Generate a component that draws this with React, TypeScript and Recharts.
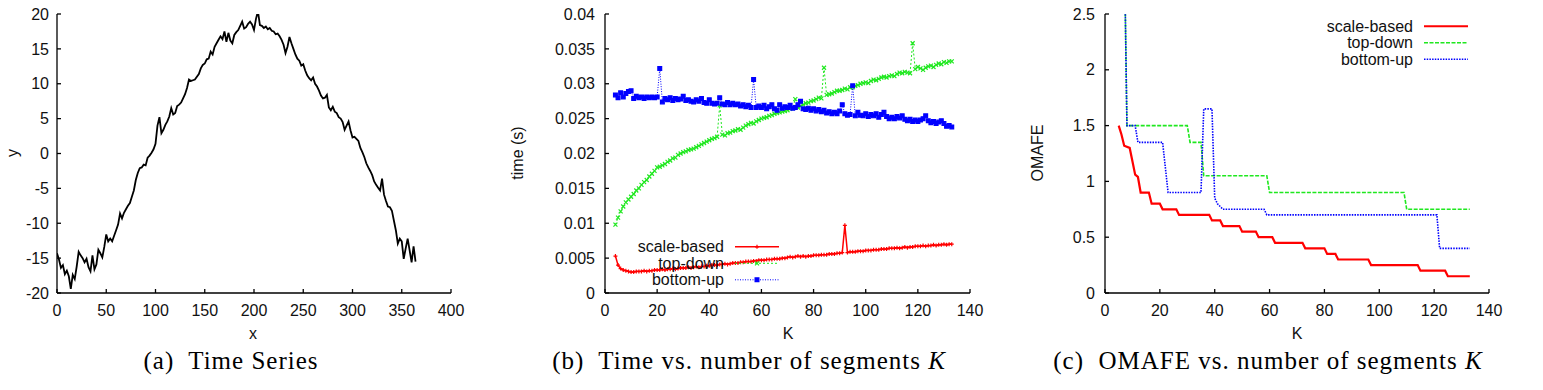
import React from 'react';
import { LineChart, Line, XAxis, YAxis } from 'recharts';

const SANS = '"Liberation Sans", Arial, Helvetica, sans-serif';
const SERIF = '"Liberation Serif", "Times New Roman", serif';
const INK = '#111';

const RED = '#ff0000';
const GREEN = '#1fe81f';
const BLUE = '#0000ff';

// (a) the raw series, one value every 2 steps of x starting at 0
const seriesStep = 2;
const seriesY = [
  -14.3, -15.2, -16.4, -16.0, -17.3, -16.8, -17.6, -19.4, -17.4, -18.0,
  -16.2, -14.1, -14.6, -15.0, -15.6, -15.1, -16.3, -16.9, -14.6, -16.6,
  -15.9, -13.8, -14.3, -14.9, -13.4, -11.6, -12.6, -12.2, -12.6, -11.8,
  -11.0, -10.2, -8.6, -9.3, -8.5, -8.0, -7.5, -7.1, -6.2, -5.3,
  -3.8, -2.8, -2.1, -2.0, -1.6, -1.7, -0.6, -0.3, 0.1, 0.6,
  1.4, 4.0, 5.2, 2.9, 3.4, 4.1, 4.6, 5.3, 6.5, 5.6,
  5.8, 6.8, 7.0, 7.3, 7.9, 8.5, 9.4, 10.6, 10.4, 10.5,
  10.6, 11.0, 11.4, 12.2, 12.7, 12.9, 13.5, 13.6, 14.6, 14.2,
  15.3, 15.8, 16.3, 16.8, 16.4, 17.5, 16.0, 17.3, 16.2, 15.8,
  17.0, 17.4, 17.7, 18.3, 18.9, 17.9, 18.1, 18.6, 18.9, 18.5,
  17.7, 19.3, 20.4, 18.4, 18.3, 18.0, 18.2, 17.8, 18.0, 17.6,
  17.5, 17.1, 17.2, 16.8, 16.3, 15.6, 14.4, 15.3, 16.7, 15.8,
  15.0, 14.2, 13.6, 13.3, 12.6, 12.8, 11.9, 11.2, 10.8, 10.5,
  10.9, 10.0, 9.6, 9.0, 8.3, 7.9, 8.0, 8.4, 6.6, 6.2,
  6.7, 6.0, 5.8, 5.2, 5.0, 4.5, 3.4, 4.0, 4.6, 3.3,
  2.3, 2.4, 2.1, 1.8, 0.8, 0.2, -0.5, -1.4, -2.0, -2.5,
  -3.1, -4.0, -4.5, -4.9, -5.3, -3.6, -5.9, -6.8, -7.6, -7.7,
  -8.2, -9.6, -11.0, -12.9, -12.2, -12.6, -15.1, -13.6, -12.2, -13.9,
  -15.6, -13.3, -15.5,
];
const seriesXTicks = [0, 50, 100, 150, 200, 250, 300, 350, 400];
const seriesYTicks = [-20, -15, -10, -5, 0, 5, 10, 15, 20];

// (b) running time in seconds for K = 4 .. 133
const kFirst = 4;
const timeScaleBased = [
  0.0053, 0.0040, 0.0035, 0.0033, 0.0032, 0.0031, 0.0030, 0.0030, 0.0031, 0.0031,
  0.0031, 0.0032, 0.0031, 0.0032, 0.0032, 0.0033, 0.0033, 0.0033, 0.0034, 0.0033,
  0.0034, 0.0034, 0.0035, 0.0034, 0.0035, 0.0036, 0.0036, 0.0036, 0.0037, 0.0036,
  0.0037, 0.0038, 0.0037, 0.0038, 0.0038, 0.0039, 0.0039, 0.0040, 0.0040, 0.0040,
  0.0041, 0.0041, 0.0042, 0.0041, 0.0042, 0.0043, 0.0043, 0.0043, 0.0044, 0.0044,
  0.0045, 0.0045, 0.0045, 0.0046, 0.0046, 0.0047, 0.0047, 0.0047, 0.0048, 0.0048,
  0.0048, 0.0049, 0.0049, 0.0049, 0.0050, 0.0050, 0.0051, 0.0052, 0.0051, 0.0052,
  0.0053, 0.0052, 0.0053, 0.0052, 0.0053, 0.0053, 0.0054, 0.0054, 0.0054, 0.0055,
  0.0055, 0.0055, 0.0056, 0.0056, 0.0056, 0.0057, 0.0057, 0.0058, 0.0097, 0.0058,
  0.0059, 0.0059, 0.0059, 0.0060, 0.0060, 0.0060, 0.0061, 0.0061, 0.0061, 0.0062,
  0.0062, 0.0062, 0.0063, 0.0063, 0.0063, 0.0064, 0.0064, 0.0064, 0.0065, 0.0064,
  0.0065, 0.0066, 0.0065, 0.0066, 0.0066, 0.0067, 0.0067, 0.0067, 0.0068, 0.0067,
  0.0068, 0.0068, 0.0069, 0.0068, 0.0069, 0.0069, 0.0070, 0.0069, 0.0070, 0.0070,
];
const timeTopDown = [
  0.0098, 0.0108, 0.0117, 0.0124, 0.0130, 0.0134, 0.0138, 0.0142, 0.0147, 0.0150,
  0.0155, 0.0159, 0.0162, 0.0167, 0.0171, 0.0175, 0.0180, 0.0181, 0.0183, 0.0185,
  0.0188, 0.0190, 0.0193, 0.0194, 0.0198, 0.0200, 0.0202, 0.0203, 0.0205, 0.0206,
  0.0207, 0.0209, 0.0211, 0.0213, 0.0215, 0.0217, 0.0219, 0.0221, 0.0222, 0.0224,
  0.0269, 0.0227, 0.0226, 0.0229, 0.0230, 0.0232, 0.0233, 0.0235, 0.0234, 0.0237,
  0.0240, 0.0242, 0.0244, 0.0243, 0.0246, 0.0248, 0.0250, 0.0251, 0.0252, 0.0254,
  0.0255, 0.0257, 0.0258, 0.0259, 0.0260, 0.0261, 0.0262, 0.0264, 0.0265, 0.0278,
  0.0266, 0.0268, 0.0270, 0.0272, 0.0273, 0.0275, 0.0276, 0.0278, 0.0280, 0.0279,
  0.0323, 0.0284, 0.0285, 0.0286, 0.0288, 0.0290, 0.0290, 0.0291, 0.0293, 0.0292,
  0.0295, 0.0295, 0.0297, 0.0298, 0.0300, 0.0301, 0.0302, 0.0301, 0.0304, 0.0306,
  0.0305, 0.0307, 0.0309, 0.0310, 0.0309, 0.0311, 0.0312, 0.0311, 0.0314, 0.0316,
  0.0315, 0.0317, 0.0316, 0.0315, 0.0358, 0.0321, 0.0324, 0.0322, 0.0320, 0.0323,
  0.0325, 0.0326, 0.0324, 0.0327, 0.0329, 0.0328, 0.0331, 0.0330, 0.0332, 0.0332,
];
const timeBottomUp = [
  0.0284, 0.0280, 0.0287, 0.0281, 0.0286, 0.0289, 0.0290, 0.0279, 0.0282, 0.0280,
  0.0281, 0.0279, 0.0281, 0.0280, 0.0281, 0.0280, 0.0281, 0.0322, 0.0274, 0.0279,
  0.0277, 0.0280, 0.0276, 0.0279, 0.0277, 0.0278, 0.0282, 0.0276, 0.0277, 0.0275,
  0.0274, 0.0277, 0.0275, 0.0279, 0.0273, 0.0272, 0.0277, 0.0272, 0.0271, 0.0272,
  0.0280, 0.0271, 0.0270, 0.0273, 0.0270, 0.0272, 0.0270, 0.0271, 0.0268, 0.0270,
  0.0267, 0.0269, 0.0266, 0.0306, 0.0266, 0.0268, 0.0266, 0.0269, 0.0264, 0.0267,
  0.0270, 0.0264, 0.0262, 0.0270, 0.0265, 0.0267, 0.0266, 0.0269, 0.0265, 0.0266,
  0.0270, 0.0275, 0.0264, 0.0263, 0.0265, 0.0262, 0.0264, 0.0261, 0.0263, 0.0260,
  0.0262, 0.0258, 0.0260, 0.0257, 0.0259, 0.0257, 0.0261, 0.0270, 0.0257, 0.0255,
  0.0256, 0.0297, 0.0254, 0.0259, 0.0255, 0.0254, 0.0257, 0.0253, 0.0256, 0.0254,
  0.0257, 0.0252, 0.0256, 0.0259, 0.0253, 0.0250, 0.0252, 0.0250, 0.0253, 0.0251,
  0.0254, 0.0249, 0.0247, 0.0249, 0.0246, 0.0248, 0.0246, 0.0248, 0.0250, 0.0254,
  0.0247, 0.0244, 0.0246, 0.0243, 0.0245, 0.0247, 0.0243, 0.0239, 0.0240, 0.0238,
];
const kTicks = [0, 20, 40, 60, 80, 100, 120, 140];
const timeTicks = [0, 0.005, 0.01, 0.015, 0.02, 0.025, 0.03, 0.035, 0.04];

// (c) OMAFE step curves as [K, OMAFE] vertices
const omafeScaleBased = [
  [5, 1.5], [6, 1.42], [7, 1.32], [9, 1.3], [10, 1.18], [11, 1.06], [12, 1.04], [13, 0.9],
  [16, 0.9], [17, 0.8], [20, 0.8], [21, 0.75], [26, 0.75], [27, 0.7], [38, 0.7], [39, 0.65],
  [42, 0.65], [43, 0.6], [49, 0.6], [50, 0.55], [55, 0.55], [56, 0.5], [61, 0.5], [62, 0.45],
  [72, 0.45], [73, 0.4], [80, 0.4], [81, 0.35], [84, 0.35], [85, 0.3], [96, 0.3], [97, 0.25],
  [114, 0.25], [115, 0.2], [124, 0.2], [125, 0.15], [133, 0.15],
];
const omafeTopDown = [
  [7, 3.2], [8, 1.5], [30, 1.5], [31, 1.35], [35, 1.35], [36, 1.05], [59, 1.05], [60, 0.9],
  [109, 0.9], [110, 0.75], [133, 0.75],
];
const omafeBottomUp = [
  [7, 3.2], [8, 1.5], [11, 1.5], [12, 1.35], [21, 1.35], [23, 0.9], [35, 0.9], [36, 1.65],
  [39, 1.65], [40, 0.85], [41, 0.8], [43, 0.75], [58, 0.75], [59, 0.7], [121, 0.7], [122, 0.4],
  [133, 0.4],
];
const omafeTicks = [0, 0.5, 1, 1.5, 2, 2.5];

const seriesRows = seriesY.map((y, i) => ({ x: i * seriesStep, y }));
const timeRows = timeScaleBased.map((sb, i) => ({
  x: kFirst + i,
  sb,
  td: timeTopDown[i],
  bu: timeBottomUp[i],
}));
const toRows = (pts: number[][]) => pts.map(([x, y]) => ({ x, y }));

const frameLine = { stroke: '#000', strokeWidth: 1.3 };
const tickText = { fontSize: 16, fill: INK, fontFamily: SANS };

// box with inward ticks on all four sides, like a gnuplot border
function frameAxes(xTicks: number[], yTicks: number[], yWidth: number, yTickMargin: number) {
  const xDomain: [number, number] = [xTicks[0], xTicks[xTicks.length - 1]];
  const yDomain: [number, number] = [yTicks[0], yTicks[yTicks.length - 1]];
  return [
    <XAxis key="xb" xAxisId="b" type="number" dataKey="x" domain={xDomain} ticks={xTicks}
      interval={0} allowDataOverflow height={52} tickSize={-4} tickMargin={16}
      axisLine={frameLine} tickLine={frameLine} tick={tickText} />,
    <XAxis key="xt" xAxisId="t" orientation="top" type="number" dataKey="x" domain={xDomain}
      ticks={xTicks} interval={0} allowDataOverflow height={0} tickSize={-4}
      axisLine={frameLine} tickLine={frameLine} tick={false} />,
    <YAxis key="yl" yAxisId="l" type="number" domain={yDomain} ticks={yTicks} interval={0}
      allowDataOverflow width={yWidth} tickSize={-4} tickMargin={yTickMargin}
      axisLine={frameLine} tickLine={frameLine} tick={tickText} />,
    <YAxis key="yr" yAxisId="r" orientation="right" type="number" domain={yDomain}
      ticks={yTicks} interval={0} allowDataOverflow width={0} tickSize={-4}
      axisLine={frameLine} tickLine={frameLine} tick={false} />,
  ];
}

type Marker = 'plus' | 'cross' | 'square';

function markerPath(kind: Marker, cx: number, cy: number) {
  if (kind === 'plus') return `M${cx - 2},${cy}h4M${cx},${cy - 2}v4`;
  if (kind === 'cross') return `M${cx - 2},${cy - 2}l4,4M${cx - 2},${cy + 2}l4,-4`;
  return `M${cx - 1.9},${cy - 1.9}h3.8v3.8h-3.8z`;
}

function makeDot(kind: Marker, color: string) {
  return (props: any) => {
    const { cx, cy, index } = props;
    if (cx == null || cy == null) return <g key={index} />;
    return (
      <path key={index} d={markerPath(kind, cx, cy)} stroke={color} strokeWidth={1.2}
        fill={kind === 'square' ? color : 'none'} />
    );
  };
}

interface KeyEntry {
  label: string;
  color: string;
  width: number;
  dash?: string;
  marker?: Marker;
}

function Key({ right, baseline, entries }: { right: number; baseline: number; entries: KeyEntry[] }) {
  return (
    <g>
      {entries.map((e, i) => {
        const y = baseline + i * 16.5;
        const ly = y - 5.5;
        const mid = right + 33;
        return (
          <g key={e.label}>
            <line x1={right + 11} x2={right + 55} y1={ly} y2={ly} stroke={e.color}
              strokeWidth={e.width} strokeDasharray={e.dash} />
            {e.marker && (
              <path d={markerPath(e.marker, mid, ly)} stroke={e.color} strokeWidth={1.2}
                fill={e.marker === 'square' ? e.color : 'none'} />
            )}
            <text x={right} y={y} textAnchor="end" fontFamily={SANS} fontSize={16} fill={INK}>
              {e.label}
            </text>
          </g>
        );
      })}
    </g>
  );
}

const timeKey: KeyEntry[] = [
  { label: 'scale-based', color: RED, width: 1.5, marker: 'plus' },
  { label: 'top-down', color: GREEN, width: 1, dash: '2 2', marker: 'cross' },
  { label: 'bottom-up', color: BLUE, width: 1, dash: '1 1.5', marker: 'square' },
];
const omafeKey: KeyEntry[] = [
  { label: 'scale-based', color: RED, width: 2 },
  { label: 'top-down', color: GREEN, width: 1.6, dash: '4 1.5' },
  { label: 'bottom-up', color: BLUE, width: 1.6, dash: '1.5 1.2' },
];

const captionStyle: React.CSSProperties = { whiteSpace: 'pre' };

export default function App() {
  return (
    <div style={{ position: 'absolute', left: 0, top: 0, width: 1543, height: 390, background: '#fff' }}>
      <div style={{ position: 'absolute', left: 0, top: 0 }}>
        <LineChart width={470} height={345} data={seriesRows} margin={{ top: 14, right: 19, bottom: 0, left: 0 }}>
          {frameAxes(seriesXTicks, seriesYTicks, 57, 12)}
          <Line xAxisId="b" yAxisId="l" type="linear" dataKey="y" stroke="#000" strokeWidth={1.8}
            dot={false} activeDot={false} isAnimationActive={false} />
        </LineChart>
      </div>

      <div style={{ position: 'absolute', left: 490, top: 0 }}>
        <LineChart width={500} height={345} data={timeRows} margin={{ top: 14, right: 20, bottom: 0, left: 0 }}>
          {frameAxes(kTicks, timeTicks, 115, 14)}
          <Line xAxisId="b" yAxisId="l" type="linear" dataKey="sb" stroke={RED} strokeWidth={1.5}
            dot={makeDot('plus', RED)} activeDot={false} isAnimationActive={false} />
          <Line xAxisId="b" yAxisId="l" type="linear" dataKey="td" stroke={GREEN} strokeWidth={1}
            strokeDasharray="2 2" dot={makeDot('cross', GREEN)} activeDot={false} isAnimationActive={false} />
          <Line xAxisId="b" yAxisId="l" type="linear" dataKey="bu" stroke={BLUE} strokeWidth={1}
            strokeDasharray="1 1.5" dot={makeDot('square', BLUE)} activeDot={false} isAnimationActive={false} />
        </LineChart>
      </div>

      <div style={{ position: 'absolute', left: 1020, top: 0 }}>
        <LineChart width={523} height={345} margin={{ top: 14, right: 54, bottom: 0, left: 0 }}>
          {frameAxes(kTicks, omafeTicks, 85, 14)}
          <Line xAxisId="b" yAxisId="l" data={toRows(omafeScaleBased)} type="linear" dataKey="y"
            stroke={RED} strokeWidth={2.2} dot={false} activeDot={false} isAnimationActive={false} />
          <Line xAxisId="b" yAxisId="l" data={toRows(omafeTopDown)} type="linear" dataKey="y"
            stroke={GREEN} strokeWidth={1.6} strokeDasharray="4 1.5" dot={false} activeDot={false}
            isAnimationActive={false} />
          <Line xAxisId="b" yAxisId="l" data={toRows(omafeBottomUp)} type="linear" dataKey="y"
            stroke={BLUE} strokeWidth={1.6} strokeDasharray="1.5 1.2" dot={false} activeDot={false}
            isAnimationActive={false} />
        </LineChart>
      </div>

      <svg width={1543} height={390} style={{ position: 'absolute', left: 0, top: 0, pointerEvents: 'none' }}>
        <g fontFamily={SANS} fontSize={16} fill={INK}>
          <text x={253} y={339} textAnchor="middle">x</text>
          <text transform="translate(18,153) rotate(-90)" textAnchor="middle">y</text>
          <text x={788} y={339} textAnchor="middle">K</text>
          <text transform="translate(523,153) rotate(-90)" textAnchor="middle">time (s)</text>
          <text x={1297} y={339} textAnchor="middle">K</text>
          <text transform="translate(1043,153) rotate(-90)" textAnchor="middle">OMAFE</text>
        </g>

        <Key right={724} baseline={252.3} entries={timeKey} />
        <Key right={1413} baseline={31.7} entries={omafeKey} />

        <g fontFamily={SERIF} fontSize={25} fill="#000" letterSpacing={1}>
          <text x={231} y={369} textAnchor="middle" style={captionStyle}>(a)  Time Series</text>
          <text x={749} y={369} textAnchor="middle" style={captionStyle}>
            (b)  Time vs. number of segments <tspan fontStyle="italic">K</tspan>
          </text>
          <text x={1268} y={369} textAnchor="middle" style={captionStyle}>
            (c)  OMAFE vs. number of segments <tspan fontStyle="italic">K</tspan>
          </text>
        </g>
      </svg>
    </div>
  );
}
